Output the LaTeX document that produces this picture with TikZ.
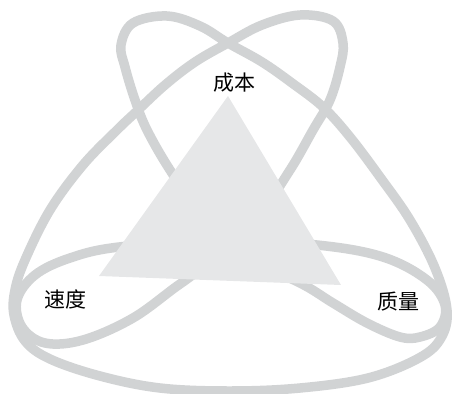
\documentclass[tikz,border=0pt]{standalone}
\usepackage{fontspec}
\newfontfamily\cjk{Noto Sans CJK SC}
\definecolor{loopgray}{HTML}{D1D3D4}
\definecolor{trigray}{HTML}{E6E7E8}
\begin{document}
\begin{tikzpicture}[x=1pt,y=-1pt,
  loopline/.style={draw=loopgray, line width=9.5pt, line join=round},
  tri/.style={fill=trigray},
  lbl/.style={font=\cjk\fontsize{21}{21}\selectfont, text=black, inner sep=0pt}]
\useasboundingbox (0,0) rectangle (453,394);
% big outer loop with the two upper lobes
\draw[loopline] plot[smooth cycle, tension=0.6] coordinates {
  (228,43) (262,62) (292,83) (323,107) (350,137) (380,177) (410,220)
  (435,268) (447,310) (441,338) (419,358) (368,378) (300,388) (230,391)
  (160,388) (100,376) (50,359) (25,341) (14,315) (15,290) (25,260)
  (50,210) (83,165) (117,130) (136,112) (165,85) (195,62) (228,43)
  (262,25) (300,15) (333,21) (343,43) (340,67) (330,100) (313,130)
  (290,170) (260,212) (230,225) (200,212) (170,170) (147,130) (135,100)
  (125,67) (121,45) (133,23) (167,16) (200,26)};
% lower loops
\draw[loopline] plot[smooth cycle, tension=0.6] coordinates {
  (119,247) (70,258) (35,275) (17,300) (22,327) (45,343) (83,340)
  (133,318) (180,284) (215,262) (250,262) (300,283) (333,303) (367,323)
  (400,337) (420,337) (440,327) (445,305) (427,280) (383,257) (317,245)
  (220,240)};
% triangle
\fill[tri] (228,96) -- (99,276) -- (341,285) -- cycle;
\node[lbl] (cost) at (234,83) {成本};
\node[lbl] (speed) at (66,299) {速度};
\node[lbl] (quality) at (398,302) {质量};
\end{tikzpicture}
\end{document}
